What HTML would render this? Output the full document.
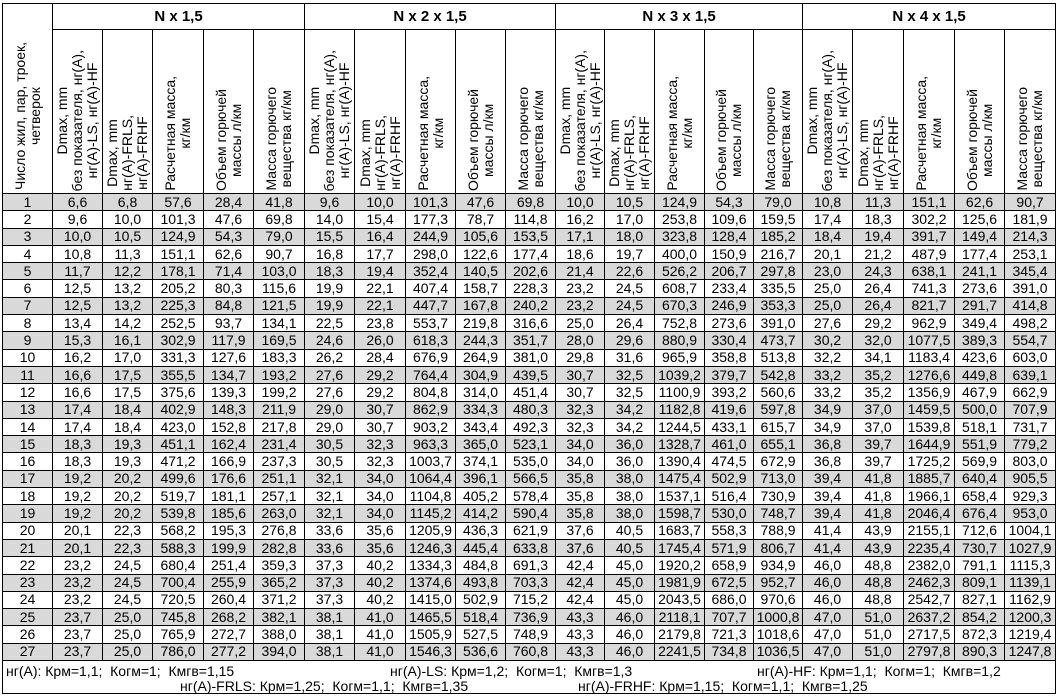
<!DOCTYPE html>
<html><head><meta charset="utf-8"><style>
html,body{margin:0;padding:0;background:#fff;width:1058px;height:697px;overflow:hidden}
body{font-family:"Liberation Sans",Arial,sans-serif;color:#000;position:relative}
table{position:absolute;left:2px;top:3px;border-collapse:collapse;table-layout:fixed;width:1053px}
td,th{border:1px solid #000;padding:0;text-align:center;font-size:14px;font-weight:normal;overflow:hidden;white-space:nowrap;line-height:15px}
tbody tr{height:17.3px}
tbody td{height:16.3px}
tbody tr:nth-child(odd) td{background:#d9d9d9}
th.g{font-weight:bold;font-size:15px;height:25px}
.vh{height:161px;display:flex;flex-direction:column;justify-content:flex-end;align-items:center;padding-bottom:2px}
.vt{writing-mode:vertical-rl;transform:rotate(180deg);text-align:center;font-size:14px;line-height:15px;white-space:nowrap}
.foot{position:absolute;font-size:14px;line-height:15px;white-space:pre}
.fbox{position:absolute;left:2px;top:660px;width:1052px;height:33px;border:1px solid #000;border-top:none}
</style></head><body>
<table>
<colgroup><col style="width:50px">
<col style="width:50px"><col style="width:50px"><col style="width:51px"><col style="width:50px"><col style="width:51px">
<col style="width:50px"><col style="width:51px"><col style="width:50px"><col style="width:50px"><col style="width:50px">
<col style="width:49px"><col style="width:50px"><col style="width:50px"><col style="width:49px"><col style="width:49px">
<col style="width:50px"><col style="width:51px"><col style="width:51px"><col style="width:50px"><col style="width:51px">
</colgroup>
<thead>
<tr><th rowspan="2"><div class="vh" style="height:185px"><div class="vt">Число жил, пар, троек,<br>четверок</div></div></th>
<th class="g" colspan="5">N x 1,5</th><th class="g" colspan="5">N x 2 x 1,5</th><th class="g" colspan="5">N x 3 x 1,5</th><th class="g" colspan="5">N x 4 x 1,5</th></tr>
<tr>
<th><div class="vh"><div class="vt">Dmax, mm<br>без показателя, нг(А),<br>нг(А)-LS, нг(А)-HF</div></div></th><th><div class="vh"><div class="vt">Dmax, mm<br>нг(А)-FRLS,<br>нг(А)-FRHF</div></div></th><th><div class="vh"><div class="vt">Расчетная масса,<br>кг/км</div></div></th><th><div class="vh"><div class="vt">Объем горючей<br>массы л/км</div></div></th><th><div class="vh"><div class="vt">Масса горючего<br>вещества кг/км</div></div></th>
<th><div class="vh"><div class="vt">Dmax, mm<br>без показателя, нг(А),<br>нг(А)-LS, нг(А)-HF</div></div></th><th><div class="vh"><div class="vt">Dmax, mm<br>нг(А)-FRLS,<br>нг(А)-FRHF</div></div></th><th><div class="vh"><div class="vt">Расчетная масса,<br>кг/км</div></div></th><th><div class="vh"><div class="vt">Объем горючей<br>массы л/км</div></div></th><th><div class="vh"><div class="vt">Масса горючего<br>вещества кг/км</div></div></th>
<th><div class="vh"><div class="vt">Dmax, mm<br>без показателя, нг(А),<br>нг(А)-LS, нг(А)-HF</div></div></th><th><div class="vh"><div class="vt">Dmax, mm<br>нг(А)-FRLS,<br>нг(А)-FRHF</div></div></th><th><div class="vh"><div class="vt">Расчетная масса,<br>кг/км</div></div></th><th><div class="vh"><div class="vt">Объем горючей<br>массы л/км</div></div></th><th><div class="vh"><div class="vt">Масса горючего<br>вещества кг/км</div></div></th>
<th><div class="vh"><div class="vt">Dmax, mm<br>без показателя, нг(А),<br>нг(А)-LS, нг(А)-HF</div></div></th><th><div class="vh"><div class="vt">Dmax, mm<br>нг(А)-FRLS,<br>нг(А)-FRHF</div></div></th><th><div class="vh"><div class="vt">Расчетная масса,<br>кг/км</div></div></th><th><div class="vh"><div class="vt">Объем горючей<br>массы л/км</div></div></th><th><div class="vh"><div class="vt">Масса горючего<br>вещества кг/км</div></div></th>
</tr></thead>
<tbody>
<tr><td>1</td><td>6,6</td><td>6,8</td><td>57,6</td><td>28,4</td><td>41,8</td><td>9,6</td><td>10,0</td><td>101,3</td><td>47,6</td><td>69,8</td><td>10,0</td><td>10,5</td><td>124,9</td><td>54,3</td><td>79,0</td><td>10,8</td><td>11,3</td><td>151,1</td><td>62,6</td><td>90,7</td></tr>
<tr><td>2</td><td>9,6</td><td>10,0</td><td>101,3</td><td>47,6</td><td>69,8</td><td>14,0</td><td>15,4</td><td>177,3</td><td>78,7</td><td>114,8</td><td>16,2</td><td>17,0</td><td>253,8</td><td>109,6</td><td>159,5</td><td>17,4</td><td>18,3</td><td>302,2</td><td>125,6</td><td>181,9</td></tr>
<tr><td>3</td><td>10,0</td><td>10,5</td><td>124,9</td><td>54,3</td><td>79,0</td><td>15,5</td><td>16,4</td><td>244,9</td><td>105,6</td><td>153,5</td><td>17,1</td><td>18,0</td><td>323,8</td><td>128,4</td><td>185,2</td><td>18,4</td><td>19,4</td><td>391,7</td><td>149,4</td><td>214,3</td></tr>
<tr><td>4</td><td>10,8</td><td>11,3</td><td>151,1</td><td>62,6</td><td>90,7</td><td>16,8</td><td>17,7</td><td>298,0</td><td>122,6</td><td>177,4</td><td>18,6</td><td>19,7</td><td>400,0</td><td>150,9</td><td>216,7</td><td>20,1</td><td>21,2</td><td>487,9</td><td>177,4</td><td>253,1</td></tr>
<tr><td>5</td><td>11,7</td><td>12,2</td><td>178,1</td><td>71,4</td><td>103,0</td><td>18,3</td><td>19,4</td><td>352,4</td><td>140,5</td><td>202,6</td><td>21,4</td><td>22,6</td><td>526,2</td><td>206,7</td><td>297,8</td><td>23,0</td><td>24,3</td><td>638,1</td><td>241,1</td><td>345,4</td></tr>
<tr><td>6</td><td>12,5</td><td>13,2</td><td>205,2</td><td>80,3</td><td>115,6</td><td>19,9</td><td>22,1</td><td>407,4</td><td>158,7</td><td>228,3</td><td>23,2</td><td>24,5</td><td>608,7</td><td>233,4</td><td>335,5</td><td>25,0</td><td>26,4</td><td>741,3</td><td>273,6</td><td>391,0</td></tr>
<tr><td>7</td><td>12,5</td><td>13,2</td><td>225,3</td><td>84,8</td><td>121,5</td><td>19,9</td><td>22,1</td><td>447,7</td><td>167,8</td><td>240,2</td><td>23,2</td><td>24,5</td><td>670,3</td><td>246,9</td><td>353,3</td><td>25,0</td><td>26,4</td><td>821,7</td><td>291,7</td><td>414,8</td></tr>
<tr><td>8</td><td>13,4</td><td>14,2</td><td>252,5</td><td>93,7</td><td>134,1</td><td>22,5</td><td>23,8</td><td>553,7</td><td>219,8</td><td>316,6</td><td>25,0</td><td>26,4</td><td>752,8</td><td>273,6</td><td>391,0</td><td>27,6</td><td>29,2</td><td>962,9</td><td>349,4</td><td>498,2</td></tr>
<tr><td>9</td><td>15,3</td><td>16,1</td><td>302,9</td><td>117,9</td><td>169,5</td><td>24,6</td><td>26,0</td><td>618,3</td><td>244,3</td><td>351,7</td><td>28,0</td><td>29,6</td><td>880,9</td><td>330,4</td><td>473,7</td><td>30,2</td><td>32,0</td><td>1077,5</td><td>389,3</td><td>554,7</td></tr>
<tr><td>10</td><td>16,2</td><td>17,0</td><td>331,3</td><td>127,6</td><td>183,3</td><td>26,2</td><td>28,4</td><td>676,9</td><td>264,9</td><td>381,0</td><td>29,8</td><td>31,6</td><td>965,9</td><td>358,8</td><td>513,8</td><td>32,2</td><td>34,1</td><td>1183,4</td><td>423,6</td><td>603,0</td></tr>
<tr><td>11</td><td>16,6</td><td>17,5</td><td>355,5</td><td>134,7</td><td>193,2</td><td>27,6</td><td>29,2</td><td>764,4</td><td>304,9</td><td>439,5</td><td>30,7</td><td>32,5</td><td>1039,2</td><td>379,7</td><td>542,8</td><td>33,2</td><td>35,2</td><td>1276,6</td><td>449,8</td><td>639,1</td></tr>
<tr><td>12</td><td>16,6</td><td>17,5</td><td>375,6</td><td>139,3</td><td>199,2</td><td>27,6</td><td>29,2</td><td>804,8</td><td>314,0</td><td>451,4</td><td>30,7</td><td>32,5</td><td>1100,9</td><td>393,2</td><td>560,6</td><td>33,2</td><td>35,2</td><td>1356,9</td><td>467,9</td><td>662,9</td></tr>
<tr><td>13</td><td>17,4</td><td>18,4</td><td>402,9</td><td>148,3</td><td>211,9</td><td>29,0</td><td>30,7</td><td>862,9</td><td>334,3</td><td>480,3</td><td>32,3</td><td>34,2</td><td>1182,8</td><td>419,6</td><td>597,8</td><td>34,9</td><td>37,0</td><td>1459,5</td><td>500,0</td><td>707,9</td></tr>
<tr><td>14</td><td>17,4</td><td>18,4</td><td>423,0</td><td>152,8</td><td>217,8</td><td>29,0</td><td>30,7</td><td>903,2</td><td>343,4</td><td>492,3</td><td>32,3</td><td>34,2</td><td>1244,5</td><td>433,1</td><td>615,7</td><td>34,9</td><td>37,0</td><td>1539,8</td><td>518,1</td><td>731,7</td></tr>
<tr><td>15</td><td>18,3</td><td>19,3</td><td>451,1</td><td>162,4</td><td>231,4</td><td>30,5</td><td>32,3</td><td>963,3</td><td>365,0</td><td>523,1</td><td>34,0</td><td>36,0</td><td>1328,7</td><td>461,0</td><td>655,1</td><td>36,8</td><td>39,7</td><td>1644,9</td><td>551,9</td><td>779,2</td></tr>
<tr><td>16</td><td>18,3</td><td>19,3</td><td>471,2</td><td>166,9</td><td>237,3</td><td>30,5</td><td>32,3</td><td>1003,7</td><td>374,1</td><td>535,0</td><td>34,0</td><td>36,0</td><td>1390,4</td><td>474,5</td><td>672,9</td><td>36,8</td><td>39,7</td><td>1725,2</td><td>569,9</td><td>803,0</td></tr>
<tr><td>17</td><td>19,2</td><td>20,2</td><td>499,6</td><td>176,6</td><td>251,1</td><td>32,1</td><td>34,0</td><td>1064,4</td><td>396,1</td><td>566,5</td><td>35,8</td><td>38,0</td><td>1475,4</td><td>502,9</td><td>713,0</td><td>39,4</td><td>41,8</td><td>1885,7</td><td>640,4</td><td>905,5</td></tr>
<tr><td>18</td><td>19,2</td><td>20,2</td><td>519,7</td><td>181,1</td><td>257,1</td><td>32,1</td><td>34,0</td><td>1104,8</td><td>405,2</td><td>578,4</td><td>35,8</td><td>38,0</td><td>1537,1</td><td>516,4</td><td>730,9</td><td>39,4</td><td>41,8</td><td>1966,1</td><td>658,4</td><td>929,3</td></tr>
<tr><td>19</td><td>19,2</td><td>20,2</td><td>539,8</td><td>185,6</td><td>263,0</td><td>32,1</td><td>34,0</td><td>1145,2</td><td>414,2</td><td>590,4</td><td>35,8</td><td>38,0</td><td>1598,7</td><td>530,0</td><td>748,7</td><td>39,4</td><td>41,8</td><td>2046,4</td><td>676,4</td><td>953,0</td></tr>
<tr><td>20</td><td>20,1</td><td>22,3</td><td>568,2</td><td>195,3</td><td>276,8</td><td>33,6</td><td>35,6</td><td>1205,9</td><td>436,3</td><td>621,9</td><td>37,6</td><td>40,5</td><td>1683,7</td><td>558,3</td><td>788,9</td><td>41,4</td><td>43,9</td><td>2155,1</td><td>712,6</td><td>1004,1</td></tr>
<tr><td>21</td><td>20,1</td><td>22,3</td><td>588,3</td><td>199,9</td><td>282,8</td><td>33,6</td><td>35,6</td><td>1246,3</td><td>445,4</td><td>633,8</td><td>37,6</td><td>40,5</td><td>1745,4</td><td>571,9</td><td>806,7</td><td>41,4</td><td>43,9</td><td>2235,4</td><td>730,7</td><td>1027,9</td></tr>
<tr><td>22</td><td>23,2</td><td>24,5</td><td>680,4</td><td>251,4</td><td>359,3</td><td>37,3</td><td>40,2</td><td>1334,3</td><td>484,8</td><td>691,3</td><td>42,4</td><td>45,0</td><td>1920,2</td><td>658,9</td><td>934,9</td><td>46,0</td><td>48,8</td><td>2382,0</td><td>791,1</td><td>1115,3</td></tr>
<tr><td>23</td><td>23,2</td><td>24,5</td><td>700,4</td><td>255,9</td><td>365,2</td><td>37,3</td><td>40,2</td><td>1374,6</td><td>493,8</td><td>703,3</td><td>42,4</td><td>45,0</td><td>1981,9</td><td>672,5</td><td>952,7</td><td>46,0</td><td>48,8</td><td>2462,3</td><td>809,1</td><td>1139,1</td></tr>
<tr><td>24</td><td>23,2</td><td>24,5</td><td>720,5</td><td>260,4</td><td>371,2</td><td>37,3</td><td>40,2</td><td>1415,0</td><td>502,9</td><td>715,2</td><td>42,4</td><td>45,0</td><td>2043,5</td><td>686,0</td><td>970,6</td><td>46,0</td><td>48,8</td><td>2542,7</td><td>827,1</td><td>1162,9</td></tr>
<tr><td>25</td><td>23,7</td><td>25,0</td><td>745,8</td><td>268,2</td><td>382,1</td><td>38,1</td><td>41,0</td><td>1465,5</td><td>518,4</td><td>736,9</td><td>43,3</td><td>46,0</td><td>2118,1</td><td>707,7</td><td>1000,8</td><td>47,0</td><td>51,0</td><td>2637,2</td><td>854,2</td><td>1200,3</td></tr>
<tr><td>26</td><td>23,7</td><td>25,0</td><td>765,9</td><td>272,7</td><td>388,0</td><td>38,1</td><td>41,0</td><td>1505,9</td><td>527,5</td><td>748,9</td><td>43,3</td><td>46,0</td><td>2179,8</td><td>721,3</td><td>1018,6</td><td>47,0</td><td>51,0</td><td>2717,5</td><td>872,3</td><td>1219,4</td></tr>
<tr><td>27</td><td>23,7</td><td>25,0</td><td>786,0</td><td>277,2</td><td>394,0</td><td>38,1</td><td>41,0</td><td>1546,3</td><td>536,6</td><td>760,8</td><td>43,3</td><td>46,0</td><td>2241,5</td><td>734,8</td><td>1036,5</td><td>47,0</td><td>51,0</td><td>2797,8</td><td>890,3</td><td>1247,8</td></tr>
</tbody></table>
<div class="fbox"></div>
<div class="foot" style="left:6px;top:664px">нг(А): Крм=1,1;  Когм=1;  Кмгв=1,15</div>
<div class="foot" style="left:390px;top:664px">нг(А)-LS: Крм=1,2;  Когм=1;  Кмгв=1,3</div>
<div class="foot" style="left:757px;top:664px">нг(А)-HF: Крм=1,1;  Когм=1;  Кмгв=1,2</div>
<div class="foot" style="left:180px;top:679px">нг(А)-FRLS: Крм=1,25;  Когм=1,1;  Кмгв=1,35</div>
<div class="foot" style="left:578px;top:679px">нг(А)-FRHF: Крм=1,15;  Когм=1,1;  Кмгв=1,25</div>
</body></html>
